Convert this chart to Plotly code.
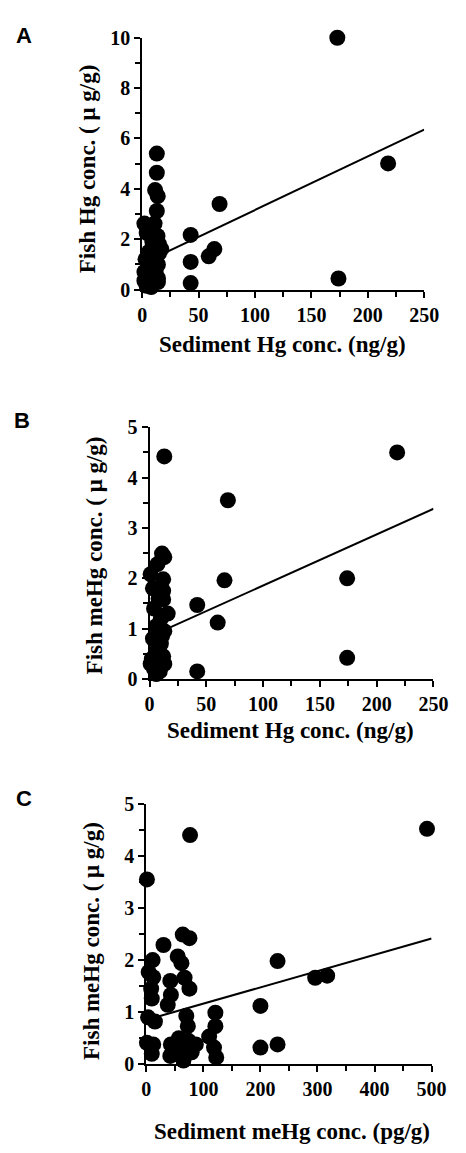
import plotly.graph_objects as go

# ---------------- data ----------------
# Panel A: sediment Hg (ng/g) vs fish Hg (ug/g)
a_x = [173, 218, 174, 68.6, 64, 59, 43, 43, 43,
       13, 13, 11.5, 13.8, 13, 2, 11, 4, 13.6, 9, 17, 15, 6, 3, 10, 14, 5, 2, 8, 12,
       3, 14, 6, 10, 14, 4, 8, 12, 7, 15, 2]
a_y = [10.0, 5.01, 0.44, 3.40, 1.61, 1.32, 2.17, 1.10, 0.26,
       5.40, 4.64, 3.95, 3.71, 3.12, 2.62, 2.62, 2.25, 2.13, 1.9, 1.61, 1.45, 1.5, 1.2, 1.2, 1.0, 0.9, 0.7, 0.7, 0.75,
       0.45, 0.45, 0.3, 0.25, 0.3, 0.15, 0.1, 1.5, 1.3, 1.8, 0.35]
a_fit = [1.03, 0.0213]  # intercept, slope
a_fit_x = [2, 250]

# Panel B: sediment Hg (ng/g) vs fish meHg (ug/g)
b_x = [218, 13, 69, 66, 174, 174, 42, 60, 42,
       11, 13, 7, 1, 12, 3, 12, 8, 12, 16, 4, 10, 6, 13, 3, 10, 6, 12, 2, 8, 13, 4, 9, 6, 1, 11]
b_y = [4.50, 4.42, 3.55, 1.96, 2.0, 0.42, 1.47, 1.12, 0.15,
       2.49, 2.42, 2.28, 2.08, 1.98, 1.8, 1.75, 1.6, 1.58, 1.3, 1.4, 1.2, 1.05, 0.95, 0.8, 0.7, 0.55, 0.45, 0.4,
       0.3, 0.3, 0.2, 0.15, 0.1, 0.3, 0.85]
b_fit = [0.84, 0.01016]
b_fit_x = [2, 250]

# Panel C: sediment meHg (pg/g) vs fish meHg (ug/g)
c_x = [492, 76.6, 1, 63.8, 75.5, 30, 55, 61.5, 11, 4, 12, 42, 67, 75.5, 8.4, 9.5, 43, 37.5, 3, 15,
       70, 72.7, 121, 121, 110, 118.6, 122.5, 230, 200, 200, 230, 296, 317,
       1, 12, 9.5, 43, 42, 57, 62.6, 65, 79.4, 86.7, 73.8, 54]
c_y = [4.52, 4.40, 3.55, 2.49, 2.42, 2.29, 2.07, 1.94, 2.0, 1.77, 1.67, 1.6, 1.66, 1.45, 1.45, 1.26, 1.33, 1.14, 0.9, 0.82,
       0.93, 0.73, 0.99, 0.73, 0.53, 0.32, 0.13, 1.98, 1.12, 0.32, 0.38, 1.66, 1.70,
       0.41, 0.38, 0.2, 0.38, 0.16, 0.5, 0.29, 0.07, 0.23, 0.38, 0.45, 0.23]
c_fit = [0.851, 0.003125]
c_fit_x = [10, 500]

panel_labels = ["A", "B", "C"]
x_titles = ["Sediment Hg conc. (ng/g)", "Sediment Hg conc. (ng/g)", "Sediment meHg conc. (pg/g)"]
y_titles = ["Fish Hg conc. ( \u03bc g/g)", "Fish meHg conc. ( \u03bc g/g)", "Fish meHg conc. ( \u03bc g/g)"]

# ---------------- figure ----------------
W, H = 466, 1153
SERIF = "Liberation Serif"
fig = go.Figure()

panels = [
    dict(x=a_x, y=a_y, fit=a_fit, fx=a_fit_x, xr=[0, 250], yr=[0, 10], xd=50, xm=25, yd=2, ym=1,
         px=(143.3, 438), py=(27.3, 284)),
    dict(x=b_x, y=b_y, fit=b_fit, fx=b_fit_x, xr=[0, 250], yr=[0, 5], xd=50, xm=25, yd=1, ym=0.5,
         px=(151, 447.7), py=(424.3, 681)),
    dict(x=c_x, y=c_y, fit=c_fit, fx=c_fit_x, xr=[0, 500], yr=[0, 5], xd=100, xm=50, yd=1, ym=0.5,
         px=(147.7, 445.7), py=(808.3, 1073.7)),
]

xt_pos = [(290, 340), (298, 733), (300, 1142)]
yt_pos = [(87, 161), (93, 555), (91, 948)]
lab_pos = [(20, 25), (18, 417), (20, 803)]

for i, p in enumerate(panels):
    n = "" if i == 0 else str(i + 1)
    xa, ya = "x" + n, "y" + n
    fig.add_trace(go.Scatter(x=p["x"], y=p["y"], mode="markers", xaxis=xa, yaxis=ya,
                             marker=dict(color="black", size=16, line=dict(width=0)),
                             cliponaxis=False, showlegend=False))
    fy = [p["fit"][0] + p["fit"][1] * v for v in p["fx"]]
    fig.add_trace(go.Scatter(x=p["fx"], y=fy, mode="lines", xaxis=xa, yaxis=ya,
                             line=dict(color="black", width=2), showlegend=False))
    axfont = dict(family=SERIF, size=20, color="black", weight="bold")
    fig.layout["xaxis" + n] = dict(
        domain=[p["px"][0] / W, p["px"][1] / W], range=p["xr"], anchor=ya,
        showgrid=False, zeroline=False, showline=True, linecolor="black", linewidth=2,
        ticks="outside", ticklen=6, tickwidth=2, tickcolor="black", dtick=p["xd"], tick0=0,
        minor=dict(ticks="outside", ticklen=5, tickwidth=1.5, tickcolor="black", dtick=p["xm"]),
        tickfont=axfont, fixedrange=True)
    fig.layout["yaxis" + n] = dict(
        domain=[1 - p["py"][1] / H, 1 - p["py"][0] / H], range=p["yr"], anchor=xa,
        showgrid=False, zeroline=False, showline=True, linecolor="black", linewidth=2,
        ticks="outside", ticklen=6, tickwidth=2, tickcolor="black", dtick=p["yd"], tick0=0,
        minor=dict(ticks="outside", ticklen=5, tickwidth=1.5, tickcolor="black", dtick=p["ym"]),
        tickfont=axfont, fixedrange=True)

    fig.add_annotation(text="<b>" + x_titles[i] + "</b>", xref="paper", yref="paper",
                       x=xt_pos[i][0] / W, y=1 - xt_pos[i][1] / H, showarrow=False,
                       xanchor="center", yanchor="middle",
                       font=dict(family=SERIF, size=23, color="black"))
    fig.add_annotation(text="<b>" + y_titles[i] + "</b>", xref="paper", yref="paper",
                       x=yt_pos[i][0] / W, y=1 - yt_pos[i][1] / H, showarrow=False, textangle=-90,
                       xanchor="center", yanchor="middle",
                       font=dict(family=SERIF, size=23, color="black"))
    fig.add_annotation(text="<b>" + panel_labels[i] + "</b>", xref="paper", yref="paper",
                       x=lab_pos[i][0] / W, y=1 - lab_pos[i][1] / H, showarrow=False,
                       xanchor="center", yanchor="middle",
                       font=dict(family="Liberation Sans", size=22, color="black"))

fig.update_layout(width=W, height=H, margin=dict(l=0, r=0, t=0, b=0),
                  paper_bgcolor="white", plot_bgcolor="white")
fig.write_html("out.html", config={"displayModeBar": False})
